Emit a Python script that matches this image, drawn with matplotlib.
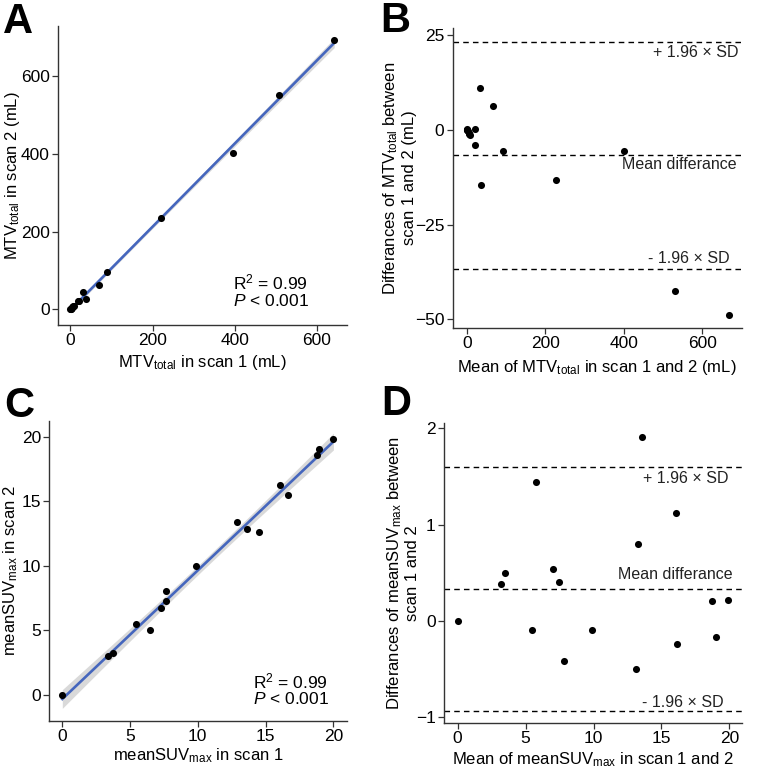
#!/usr/bin/env python
# -*- coding: utf-8 -*-

"""Repeatability of MTV_total and meanSUV_max between two scans."""

import numpy as np
import matplotlib

matplotlib.use("Agg")
import matplotlib.pyplot as plt

# MTV_total (mL), scan 1 vs scan 2
mtv_scan1 = [0.0, 0.6, 1.5, 3.2, 4.8, 6.5, 7.6, 21.1, 18.0, 38.6, 29.8,
             70.2, 89.3, 220.9, 397.2, 507.8, 642.6]
mtv_scan2 = [0.0, 0.4, 1.5, 3.6, 5.5, 7.6, 8.9, 20.9, 22.0, 27.5, 44.3,
             63.8, 94.8, 234.1, 402.9, 550.3, 691.5]

# meanSUV_max, scan 1 vs scan 2
suv_scan1 = [0.00, 3.38, 3.73, 5.42, 6.49, 7.29, 7.68, 7.64, 9.86, 12.90,
             13.65, 14.51, 16.63, 16.05, 18.80, 18.91, 20.01]
suv_scan2 = [0.00, 3.00, 3.23, 5.52, 5.05, 6.75, 7.28, 8.06, 9.96, 13.40,
             12.85, 12.60, 15.51, 16.29, 18.60, 19.08, 19.79]

# Bland-Altman lines: lower limit, mean difference, upper limit
mtv_limits = [-36.7, -6.7, 23.3]
suv_limits = [-0.936, 0.333, 1.60]

r2_text = "R$^2$ = 0.99"
p_text = "$P$ < 0.001"

plt.rcParams["font.family"] = ["Liberation Sans", "DejaVu Sans"]
plt.rcParams["mathtext.fontset"] = "custom"
plt.rcParams["mathtext.rm"] = "Liberation Sans"
plt.rcParams["mathtext.it"] = "Liberation Sans:italic"
plt.rcParams["mathtext.sf"] = "Liberation Sans"

W, H = 760, 775
LAB = 12
TICK = 12.5


def box(l, r, t, b):
    return [l / W, 1 - b / H, (r - l) / W, (b - t) / H]


def style(ax):
    for s in ("top", "right"):
        ax.spines[s].set_visible(False)
    for s in ("left", "bottom"):
        ax.spines[s].set_linewidth(1.0)
        ax.spines[s].set_color("#333333")
    ax.tick_params(length=4, width=0.9, labelsize=TICK, color="#333333",
                   labelcolor="black", pad=2)


def scatter_fit(ax, x, y, t_crit=2.131):
    x = np.asarray(x)
    y = np.asarray(y)
    n = len(x)
    b, a = np.polyfit(x, y, 1)
    xs = np.linspace(x.min(), x.max(), 200)
    resid = y - (a + b * x)
    s = np.sqrt(np.sum(resid ** 2) / (n - 2))
    sxx = np.sum((x - x.mean()) ** 2)
    se = s * np.sqrt(1 / n + (xs - x.mean()) ** 2 / sxx)
    fit = a + b * xs
    ax.fill_between(xs, fit - t_crit * se, fit + t_crit * se,
                    color="#bbbbbb", alpha=0.55, lw=0, zorder=1)
    ax.scatter(x, y, s=26, color="black", zorder=3, lw=0)
    ax.plot(xs, fit, color="#4566BD", lw=1.9, zorder=2)


def bland_altman(ax, s1, s2, limits, xtext, ytexts):
    s1 = np.asarray(s1)
    s2 = np.asarray(s2)
    mean = (s1 + s2) / 2
    diff = s1 - s2
    for v in limits:
        ax.axhline(v, color="black", lw=1.0, ls=(0, (4, 3)), zorder=1)
    ax.scatter(mean, diff, s=26, color="black", zorder=3, lw=0)
    labels = ["- 1.96 × SD", "Mean differance", "+ 1.96 × SD"]
    for lab, xt, yt in zip(labels, xtext, ytexts):
        ax.text(xt, yt, lab, ha="right", va="center", fontsize=11.5,
                color="#222222")


fig = plt.figure(figsize=(W / 100, H / 100), dpi=100)

# Panel A
axA = fig.add_axes(box(58, 347, 26, 325))
scatter_fit(axA, mtv_scan1, mtv_scan2)
axA.set_xlim(-30.3, 673.7)
axA.set_ylim(-40.3, 728.6)
axA.set_xticks([0, 200, 400, 600])
axA.set_yticks([0, 200, 400, 600])
style(axA)
axA.set_xlabel(r"MTV$_{\mathrm{total}}$ in scan 1 (mL)", fontsize=LAB)
axA.set_ylabel(r"MTV$_{\mathrm{total}}$ in scan 2 (mL)", fontsize=LAB)
axA.xaxis.set_label_coords(0.5, -0.095)
axA.yaxis.set_label_coords(-0.125, 0.5)
axA.text(396, 68, r2_text, fontsize=12.5, va="center")
axA.text(396, 21, p_text, fontsize=12.5, va="center")

# Panel B
axB = fig.add_axes(box(452.7, 741.7, 28, 328))
bland_altman(axB, mtv_scan1, mtv_scan2, mtv_limits,
             [668, 687, 691], [-33.9, -9.2, 20.4])
axB.set_xlim(-35.7, 700)
axB.set_ylim(-52.3, 26.9)
axB.set_xticks([0, 200, 400, 600])
axB.set_yticks([-50, -25, 0, 25])
axB.set_yticklabels(["\u221250", "\u221225", "0", "25"])
style(axB)
axB.set_xlabel(r"Mean of MTV$_{\mathrm{total}}$ in scan 1 and 2 (mL)",
               fontsize=LAB)
axB.set_ylabel("Differances of MTV$_{\\mathrm{total}}$ between\n"
               "scan 1 and 2 (mL)", fontsize=LAB, linespacing=1.1,
               multialignment="center")
axB.xaxis.set_label_coords(0.5, -0.1)
axB.yaxis.set_label_coords(-0.125, 0.5)

# Panel C
axC = fig.add_axes(box(49.3, 346.7, 420.7, 720.7))
scatter_fit(axC, suv_scan1, suv_scan2)
axC.set_xlim(-0.96, 20.99)
axC.set_ylim(-1.99, 21.24)
axC.set_xticks([0, 5, 10, 15, 20])
axC.set_yticks([0, 5, 10, 15, 20])
style(axC)
axC.set_xlabel(r"meanSUV$_{\mathrm{max}}$ in scan 1", fontsize=LAB)
axC.set_ylabel(r"meanSUV$_{\mathrm{max}}$ in scan 2", fontsize=LAB)
axC.xaxis.set_label_coords(0.5, -0.085)
axC.yaxis.set_label_coords(-0.1, 0.5)
axC.text(14.1, 1.03, r2_text, fontsize=12.5, va="center")
axC.text(14.1, -0.31, p_text, fontsize=12.5, va="center")

# Panel D
axD = fig.add_axes(box(444, 741.7, 423, 723))
bland_altman(axD, suv_scan1, suv_scan2, suv_limits,
             [19.56, 20.2, 19.9], [-0.853, 0.485, 1.48])
axD.set_xlim(-1.0, 20.9)
axD.set_ylim(-1.064, 2.056)
axD.set_xticks([0, 5, 10, 15, 20])
axD.set_yticks([-1, 0, 1, 2])
axD.set_yticklabels(["\u22121", "0", "1", "2"])
style(axD)
axD.set_xlabel(r"Mean of meanSUV$_{\mathrm{max}}$ in scan 1 and 2",
               fontsize=LAB)
axD.set_ylabel("Differances of meanSUV$_{\\mathrm{max}}$ between\n"
               "scan 1 and 2", fontsize=LAB, linespacing=1.1,
               multialignment="center")
axD.xaxis.set_label_coords(0.5, -0.09)
axD.yaxis.set_label_coords(-0.08, 0.5)

# panel letters
for letter, x, y in [("A", 3, 33), ("B", 380, 32), ("C", 4, 417), ("D", 381, 415)]:
    fig.text(x / W, 1 - y / H, letter, fontsize=30, fontweight="bold",
             va="baseline", ha="left")

fig.savefig("out.png", dpi=100)
plt.close()
